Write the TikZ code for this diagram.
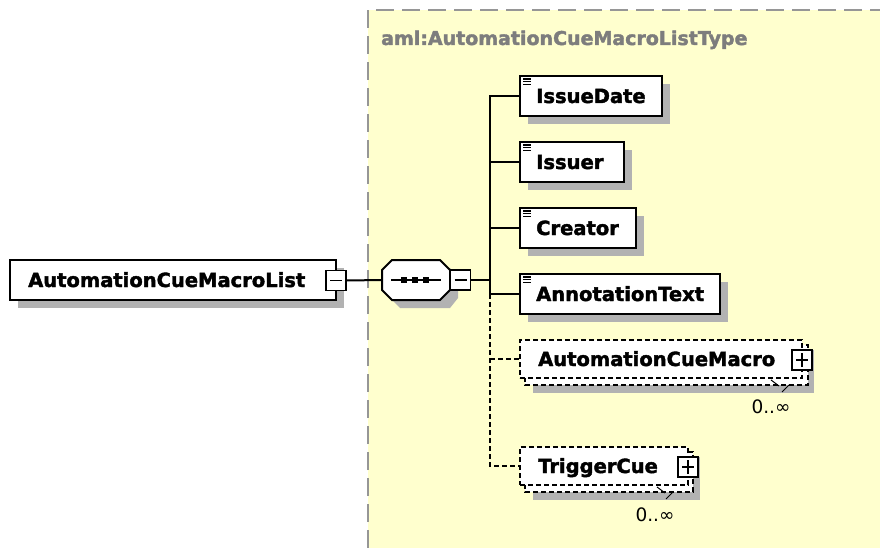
\documentclass[tikz,border=0pt]{standalone}
\usepackage{fontspec}
\setmainfont{DejaVu Sans}
\newfontfamily\heavyfont{DejaVu Sans Bold}[FakeBold=2]
\usetikzlibrary{shadows}
\definecolor{panelY}{RGB}{255,255,206}
\definecolor{shadowG}{RGB}{178,178,178}
\definecolor{panelLine}{RGB}{150,150,150}
\definecolor{titleG}{RGB}{125,125,125}
\begin{document}
\begin{tikzpicture}[x=1pt,y=-1pt,
  shd/.style={drop shadow={shadow xshift=8pt,shadow yshift=-8pt,fill=shadowG,opacity=1}},
  elbox/.style={rectangle,draw=black,line width=2pt,fill=white,inner sep=0pt,minimum height=40pt,shd},
  optbox/.style={rectangle,draw=black,line width=1.6pt,dash pattern=on 5pt off 3pt,fill=white,inner sep=0pt},
  optback/.style={draw=black,line width=1.6pt,dash pattern=on 5pt off 3pt,fill=white},
  lbl/.style={font=\heavyfont\fontsize{19.5}{20}\selectfont,inner sep=0pt,anchor=base west},
  occ/.style={font=\fontsize{18.5}{20}\selectfont,inner sep=0pt},
  pm/.style={rectangle,draw=black,line width=1.5pt,fill=white,minimum size=20pt,inner sep=0pt},
  conn/.style={line width=2pt},
  dconn/.style={line width=1.6pt,dash pattern=on 5pt off 3pt},
  sign/.style={line width=1.4pt},
  docline/.style={line width=1.1pt},
  tick/.style={line width=1pt}
]
\useasboundingbox (0,0) rectangle (880,548);
% panel
\fill[panelY] (368,10) rectangle (880,548);
\draw[panelLine,line width=2.2pt,dash pattern=on 18pt off 8pt] (368,548) -- (368,10) -- (880,10);
\node[anchor=base west,inner sep=0pt,text=titleG,font=\heavyfont\fontsize{19}{20}\selectfont] (title) at (381,45) {aml:AutomationCueMacroListType};

% root element
\node[elbox,minimum width=326pt] (root) at (173,280) {};
\node[lbl] (rootlbl) at (28,287) {AutomationCueMacroList};
\node[pm] (rootminus) at (336,280.5) {};
\draw[sign] ([xshift=-6pt]rootminus.center) -- ([xshift=6pt]rootminus.center);

% sequence compositor
\fill[shadowG] (400,268) -- (450,268) -- (458,278) -- (458,298) -- (450,308) -- (400,308) -- (390,298) -- (390,278) -- cycle;
\draw[line width=2pt,fill=white] (392,260) -- (440,260) -- (450,270) -- (450,290) -- (440,300) -- (392,300) -- (382,290) -- (382,270) -- cycle;
\node[rectangle,inner sep=0pt,minimum width=68pt,minimum height=40pt] (seq) at (416,280) {};
\draw[line width=1.4pt] (391,280) -- (441,280);
\foreach \q in {404,415,426} \fill[black] (\q-3,277) rectangle (\q+3,283);
\node[pm] (seqminus) at (460.5,280) {};
\draw[sign] ([xshift=-6pt]seqminus.center) -- ([xshift=6pt]seqminus.center);

\draw[conn] (rootminus.east) -- (seq.west);
\coordinate (trunk) at (490,280);
\draw[conn] (seqminus.east) -- (trunk);

% mandatory children
\node[elbox,minimum width=142pt] (issuedate) at (591,96) {};
\node[lbl] at (536,103) {IssueDate};
\node[elbox,minimum width=104pt] (issuer) at (572,162) {};
\node[lbl] at (536,169) {Issuer};
\node[elbox,minimum width=116pt] (creator) at (578,228) {};
\node[lbl] at (536,235) {Creator};
\node[elbox,minimum width=200pt] (annot) at (620,294) {};
\node[lbl] at (536,301) {AnnotationText};
\foreach \b in {issuedate,issuer,creator,annot}{
  \draw[docline] ([xshift=4pt,yshift=-4pt]\b.north west) -- ++(8,0);
  \draw[docline] ([xshift=4pt,yshift=-6.8pt]\b.north west) -- ++(8,0);
  \draw[docline] ([xshift=4pt,yshift=-9.6pt]\b.north west) -- ++(8,0);
}

% optional repeated children
\fill[shadowG] (533,350) rectangle (814,393);
\draw[optback] (525,345) rectangle (808,385);
\node[optbox,minimum width=282pt,minimum height=38pt] (acm) at (661,359) {};
\node[lbl] at (538,366) {AutomationCueMacro};
\node[pm] (acmplus) at (802,360) {};
\draw[sign] ([xshift=-6pt]acmplus.center) -- ([xshift=6pt]acmplus.center);
\draw[sign] ([yshift=-7pt]acmplus.center) -- ([yshift=7pt]acmplus.center);
\draw[tick] (771,380) -- (779,386);
\draw[tick] (782,392) -- (789,385);
\node[occ] (acmocc) at (771,407) {0..∞};

\fill[shadowG] (533,457) rectangle (700,500);
\draw[optback] (525,452) rectangle (693,492);
\node[optbox,minimum width=168pt,minimum height=38pt] (trig) at (604,466) {};
\node[lbl] at (538,473) {TriggerCue};
\node[pm] (trigplus) at (688,467) {};
\draw[sign] ([xshift=-6pt]trigplus.center) -- ([xshift=6pt]trigplus.center);
\draw[sign] ([yshift=-7pt]trigplus.center) -- ([yshift=7pt]trigplus.center);
\draw[tick] (657,487) -- (665,493);
\draw[tick] (666,499) -- (673,492);
\node[occ] (trigocc) at (655,515) {0..∞};

% connectors
\draw[conn] (issuedate.west) -- (issuedate.west -| trunk) -- (annot.west -| trunk) -- (annot.west);
\draw[conn] (issuer.west -| trunk) -- (issuer.west);
\draw[conn] (creator.west -| trunk) -- (creator.west);
\draw[dconn] (annot.west -| trunk) |- (trig.west);
\draw[dconn] (acm.west -| trunk) -- (acm.west);
\end{tikzpicture}
\end{document}
